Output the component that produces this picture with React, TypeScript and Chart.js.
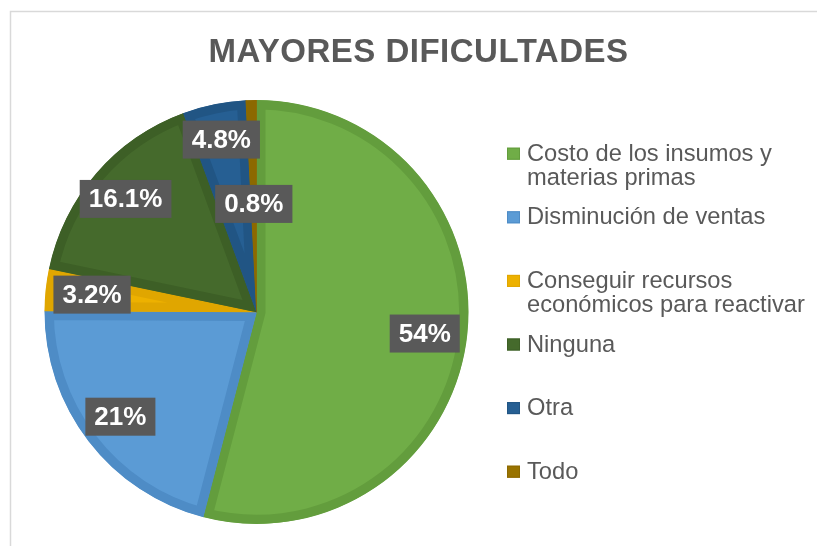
import React, { useEffect, useRef } from "react";
import { Chart, registerables } from "chart.js";

Chart.register(...registerables);

const titleText = "MAYORES DIFICULTADES";
const categories = [
  "Costo de los insumos y materias primas",
  "Disminución de ventas",
  "Conseguir recursos económicos para reactivar",
  "Ninguna",
  "Otra",
  "Todo",
];
const values = [54, 21, 3.2, 16.1, 4.8, 0.8];
const fillColors = ["#70AD47", "#5B9BD5", "#EDB100", "#456A2C", "#265F93", "#997300"];
const edgeColors = ["#639D3D", "#4E8CC6", "#E0A600", "#3D5F26", "#215584", "#8C6900"];
const labelRadiusFactors = [0.8, 0.81, 0.78, 0.816, 0.83, 0.51];

const FONT = "'Liberation Sans', Arial, sans-serif";
const GRAY = "#595959";

function fmt(v: number) {
  return Number.isInteger(v) ? `${v}%` : `${v.toFixed(1)}%`;
}

function wrap(ctx: CanvasRenderingContext2D, text: string, maxW: number) {
  const words = text.split(" ");
  const lines: string[] = [];
  let cur = "";
  for (const w of words) {
    const t = cur ? cur + " " + w : w;
    if (ctx.measureText(t).width > maxW && cur) {
      lines.push(cur);
      cur = w;
    } else cur = t;
  }
  if (cur) lines.push(cur);
  return lines;
}

const decorPlugin = {
  id: "decor",
  beforeDraw(chart: any) {
    const ctx = chart.ctx as CanvasRenderingContext2D;
    ctx.save();
    ctx.fillStyle = "#ffffff";
    ctx.fillRect(0, 0, chart.width, chart.height);
    ctx.strokeStyle = "#D9D9D9";
    ctx.lineWidth = 1.5;
    ctx.beginPath();
    ctx.moveTo(10.5, chart.height);
    ctx.lineTo(10.5, 11.5);
    ctx.lineTo(chart.width, 11.5);
    ctx.stroke();
    // title
    ctx.fillStyle = GRAY;
    ctx.font = `bold 33px ${FONT}`;
    (ctx as any).letterSpacing = "0.5px";
    ctx.textAlign = "center";
    ctx.textBaseline = "alphabetic";
    ctx.fillText(titleText, 418.5, 62);
    (ctx as any).letterSpacing = "0px";
    ctx.restore();
  },
  afterDatasetsDraw(chart: any) {
    const ctx = chart.ctx as CanvasRenderingContext2D;
    const meta = chart.getDatasetMeta(0);
    const ds = chart.data.datasets[0];
    ctx.save();
    // data labels
    ctx.font = `bold 26px ${FONT}`;
    ctx.textAlign = "center";
    ctx.textBaseline = "middle";
    meta.data.forEach((arc: any, i: number) => {
      const { x, y, startAngle, endAngle, outerRadius } = arc.getProps(
        ["x", "y", "startAngle", "endAngle", "outerRadius"],
        true
      );
      const mid = (startAngle + endAngle) / 2;
      const r = outerRadius * labelRadiusFactors[i];
      const cx = x + Math.cos(mid) * r;
      const cy = y + Math.sin(mid) * r;
      const txt = fmt(ds.data[i]);
      const w = ctx.measureText(txt).width + 18;
      const h = 38;
      ctx.fillStyle = GRAY;
      ctx.fillRect(cx - w / 2, cy - h / 2, w, h);
      ctx.fillStyle = "#ffffff";
      ctx.fillText(txt, cx, cy + 1);
    });
    // legend
    ctx.font = `23.7px ${FONT}`;
    ctx.textAlign = "left";
    ctx.textBaseline = "alphabetic";
    const labels: string[] = chart.data.labels;
    labels.forEach((lab, i) => {
      const base = 160.7 + 63.6 * i;
      const lines = wrap(ctx, lab, 282);
      ctx.fillStyle = ds.backgroundColor[i];
      ctx.fillRect(507, base - 13, 13, 12);
      ctx.strokeStyle = ds.borderColor[i];
      ctx.lineWidth = 1;
      ctx.strokeRect(507.5, base - 12.5, 12, 11);
      ctx.fillStyle = GRAY;
      lines.forEach((ln, j) => ctx.fillText(ln, 527, base + j * 24));
    });
    ctx.restore();
  },
};

export default function App() {
  const ref = useRef<HTMLCanvasElement>(null);
  useEffect(() => {
    if (!ref.current) return;
    const chart = new Chart(ref.current, {
      type: "pie",
      data: {
        labels: categories,
        datasets: [
          {
            data: values,
            backgroundColor: fillColors,
            borderColor: edgeColors,
            borderWidth: 9,
            borderAlign: "inner",
          } as any,
        ],
      },
      options: {
        responsive: false,
        animation: false,
        radius: 212,
        layout: { padding: { left: 0, right: 304, top: 100, bottom: 22 } },
        plugins: {
          legend: { display: false },
          tooltip: { enabled: false },
          title: { display: false },
        },
        events: [],
      } as any,
      plugins: [decorPlugin],
    });
    return () => chart.destroy();
  }, []);
  return (
    <div style={{ position: "fixed", left: 0, top: 0, width: 817, height: 546, background: "#fff" }}>
      <canvas ref={ref} width={817} height={546} style={{ width: 817, height: 546, display: "block" }} />
    </div>
  );
}
